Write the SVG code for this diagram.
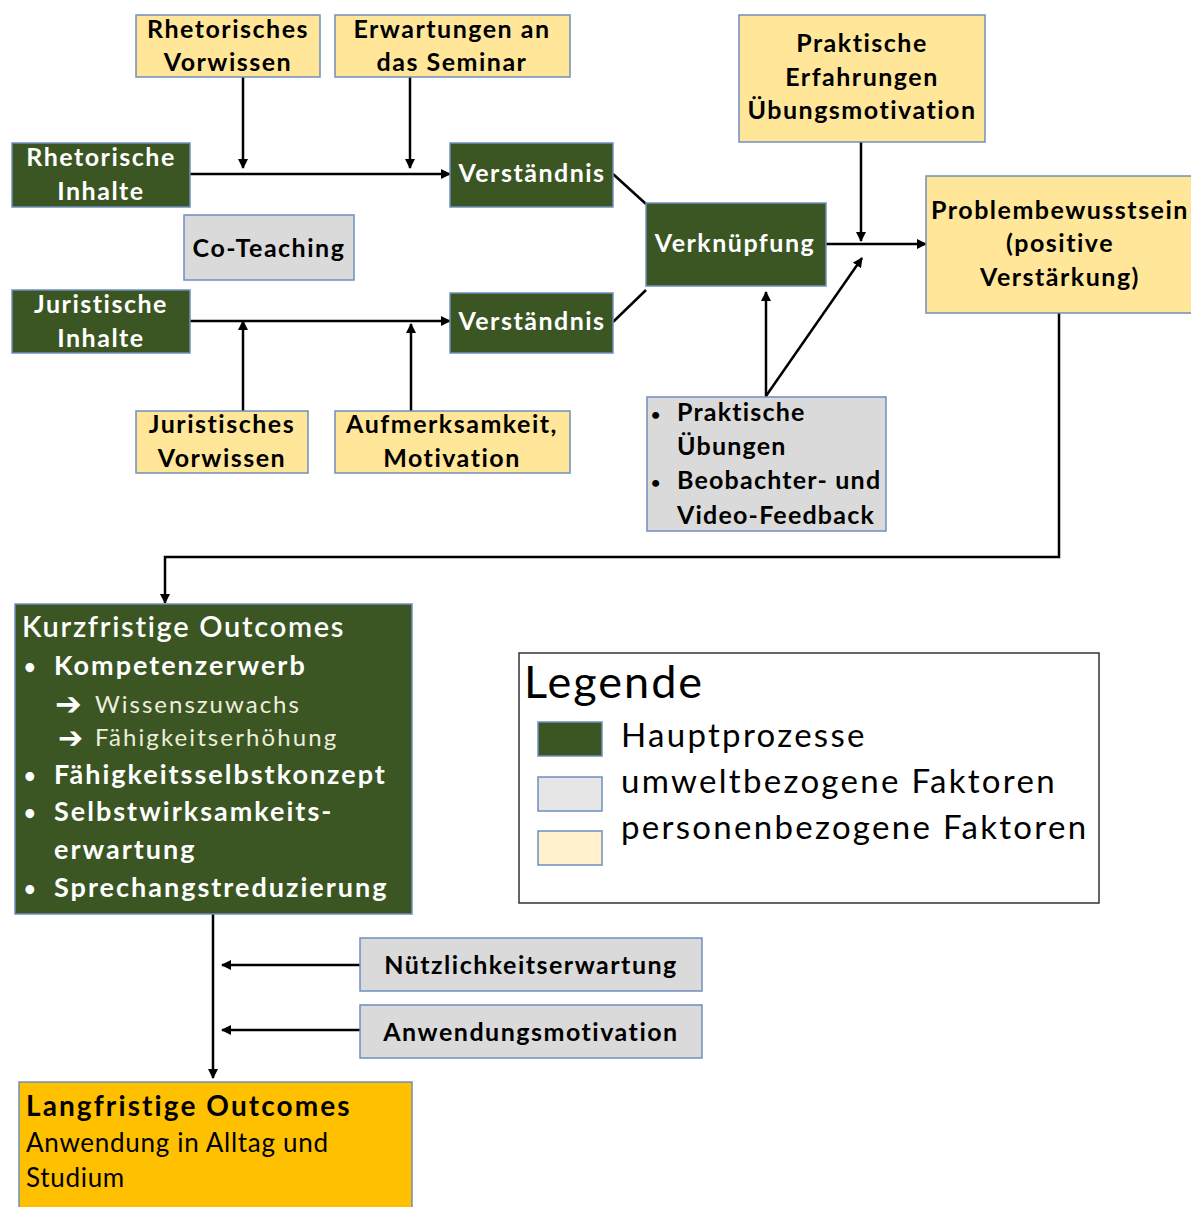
<svg xmlns="http://www.w3.org/2000/svg" width="1191" height="1207" viewBox="0 0 1191 1207">
<defs>
<marker id="ah" viewBox="0 0 10 10" refX="9" refY="5" markerWidth="4" markerHeight="4" orient="auto" markerUnits="strokeWidth">
<path d="M0,0 L10,5 L0,10 z" fill="#000"/>
</marker>
<style>
.g{fill:#3b5623;stroke:#6f8fbd;stroke-width:1.5}
.y{fill:#ffe699;stroke:#6f8fbd;stroke-width:1.5}
.gr{fill:#dadada;stroke:#6f8fbd;stroke-width:1.5}
.o{fill:#ffc000;stroke:#6f8fbd;stroke-width:1.5}
text{font-family:Lato,"Open Sans","Liberation Sans",sans-serif}
.tw{fill:#fff;font-weight:bold;font-size:25px;letter-spacing:1.5px;text-anchor:middle}
.tb{fill:#000;font-weight:bold;font-size:25px;letter-spacing:1.5px;text-anchor:middle}
.c{stroke:#000;stroke-width:2.5;fill:none}
.ca{stroke:#000;stroke-width:2.5;fill:none;marker-end:url(#ah)}
.arr{font-family:"DejaVu Sans",sans-serif}
</style>
</defs>
<rect width="1191" height="1207" fill="#fff"/>
<g id="connectors">
<line class="ca" x1="190" y1="174" x2="450" y2="174"/>
<line class="ca" x1="243" y1="77" x2="243" y2="168"/>
<line class="ca" x1="410" y1="77" x2="410" y2="168"/>
<line class="ca" x1="190" y1="321" x2="450" y2="321"/>
<line class="ca" x1="243" y1="411" x2="243" y2="321"/>
<line class="ca" x1="411" y1="411" x2="411" y2="324"/>
<line class="c" x1="613" y1="174" x2="646" y2="204"/>
<line class="c" x1="613" y1="322" x2="646" y2="290"/>
<line class="ca" x1="826" y1="244" x2="926" y2="244"/>
<line class="ca" x1="861" y1="142" x2="861" y2="241"/>
<line class="ca" x1="766" y1="397" x2="766" y2="292"/>
<line class="ca" x1="766" y1="396" x2="862" y2="258"/>
<polyline class="ca" points="1059,313 1059,557 165,557 165,603"/>
<line class="ca" x1="213" y1="914" x2="213" y2="1078"/>
<line class="ca" x1="360" y1="965" x2="222" y2="965"/>
<line class="ca" x1="360" y1="1030" x2="222" y2="1030"/>
</g>
<g id="rhet-vorwissen"><rect class="y" x="136" y="15" width="184" height="62"/><text class="tb" x="228" y="38">Rhetorisches</text><text class="tb" x="228" y="71">Vorwissen</text></g>
<g id="erwartungen"><rect class="y" x="335" y="15" width="235" height="62"/><text class="tb" x="452" y="38">Erwartungen an</text><text class="tb" x="452" y="71">das Seminar</text></g>
<g id="rhet-inhalte"><rect class="g" x="12" y="143" width="178" height="64"/><text class="tw" x="101" y="166">Rhetorische</text><text class="tw" x="101" y="200">Inhalte</text></g>
<g id="verstaendnis1"><rect class="g" x="450" y="143" width="163" height="64"/><text class="tw" x="532" y="182">Verständnis</text></g>
<g id="coteaching"><rect class="gr" x="184" y="215" width="170" height="65"/><text class="tb" x="269" y="257" font-size="26">Co-Teaching</text></g>
<g id="jur-inhalte"><rect class="g" x="12" y="290" width="178" height="63"/><text class="tw" x="101" y="313">Juristische</text><text class="tw" x="101" y="347">Inhalte</text></g>
<g id="verstaendnis2"><rect class="g" x="450" y="293" width="163" height="60"/><text class="tw" x="532" y="330">Verständnis</text></g>
<g id="jur-vorwissen"><rect class="y" x="136" y="411" width="172" height="62"/><text class="tb" x="222" y="433">Juristisches</text><text class="tb" x="222" y="467">Vorwissen</text></g>
<g id="aufmerksamkeit"><rect class="y" x="335" y="411" width="235" height="62"/><text class="tb" x="452" y="433">Aufmerksamkeit,</text><text class="tb" x="452" y="467">Motivation</text></g>
<g id="verknuepfung"><rect class="g" x="646" y="203" width="180" height="83"/><text class="tw" x="735" y="252">Verknüpfung</text></g>
<g id="prakt-erfahrungen"><rect class="y" x="739" y="15" width="246" height="127"/><text class="tb" x="862" y="52">Praktische</text><text class="tb" x="862" y="86">Erfahrungen</text><text class="tb" x="862" y="119">Übungsmotivation</text></g>
<g id="problembewusstsein"><rect class="y" x="926" y="176" width="270" height="137"/><text class="tb" x="1060" y="219">Problembewusstsein</text><text class="tb" x="1060" y="252">(positive</text><text class="tb" x="1060" y="286">Verstärkung)</text></g>
<g id="uebungen"><rect class="gr" x="647" y="397" width="239" height="134"/>
<g font-weight="bold" font-size="25" fill="#000" letter-spacing="1.2"><text x="651" y="420" font-size="16">•</text><text x="677" y="421">Praktische</text><text x="677" y="455">Übungen</text><text x="651" y="488" font-size="16">•</text><text x="677" y="489">Beobachter- und</text><text x="677" y="524">Video-Feedback</text></g></g>
<g id="kurzfristig"><rect class="g" x="15" y="604" width="397" height="310"/>
<g fill="#fff"><text x="22" y="637" font-size="29" font-weight="600" letter-spacing="1.7">Kurzfristige Outcomes</text>
<g font-size="27" font-weight="bold" letter-spacing="2"><text x="24" y="674" font-size="20">•</text><text x="54" y="675">Kompetenzerwerb</text>
<text x="24" y="783" font-size="20">•</text><text x="54" y="784">Fähigkeitsselbstkonzept</text>
<text x="24" y="820" font-size="20">•</text><text x="54" y="821">Selbstwirksamkeits-</text><text x="54" y="859">erwartung</text>
<text x="24" y="896" font-size="20">•</text><text x="54" y="897">Sprechangstreduzierung</text></g>
<text class="arr" x="55" y="715" font-size="32">➔</text><text x="95" y="713" font-size="24" letter-spacing="2" fill="#eeeedd">Wissenszuwachs</text>
<text class="arr" x="58" y="748" font-size="30">➔</text><text x="95" y="746" font-size="24" letter-spacing="2.1" fill="#eeeedd">Fähigkeitserhöhung</text></g></g>
<g id="legende"><rect x="519" y="653" width="580" height="250" fill="#fff" stroke="#333" stroke-width="1.5"/>
<text x="524" y="698" font-size="45" letter-spacing="2">Legende</text>
<rect class="g" x="538" y="722" width="64" height="34"/><rect class="gr" x="538" y="777" width="64" height="34" style="fill:#e6e6e6"/><rect class="y" x="538" y="831" width="64" height="34" style="fill:#fff2cc"/>
<g font-size="33" letter-spacing="2.3"><text x="621" y="747">Hauptprozesse</text><text x="621" y="793">umweltbezogene Faktoren</text><text x="621" y="839">personenbezogene Faktoren</text></g></g>
<g id="nuetzlichkeit"><rect class="gr" x="360" y="938" width="342" height="53"/><text class="tb" x="531" y="974" letter-spacing="1.9">Nützlichkeitserwartung</text></g>
<g id="anwendungsmotivation"><rect class="gr" x="360" y="1005" width="342" height="53"/><text class="tb" x="531" y="1041" letter-spacing="1.9">Anwendungsmotivation</text></g>
<g id="langfristig"><rect class="o" x="19" y="1082" width="393" height="130"/><text x="26" y="1116" font-size="28" font-weight="bold" letter-spacing="2.1">Langfristige Outcomes</text><text x="26" y="1152" font-size="26" letter-spacing="0.7">Anwendung in Alltag und</text><text x="26" y="1187" font-size="26" letter-spacing="0.7">Studium</text></g>
</svg>
